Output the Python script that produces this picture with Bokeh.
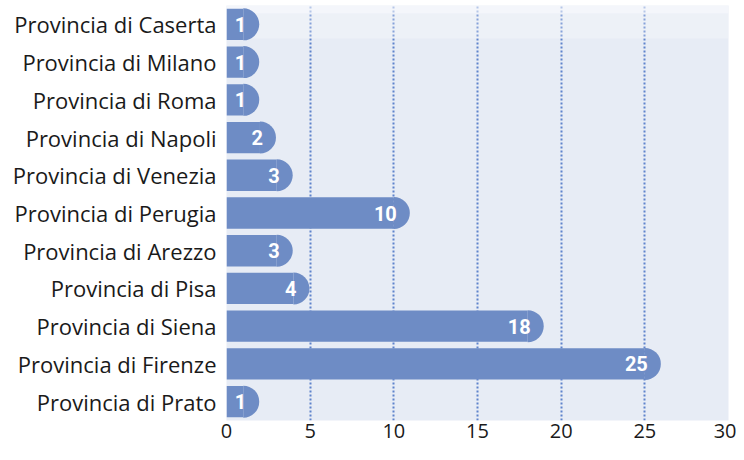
import math
from bokeh.plotting import figure
from bokeh.models import ColumnDataSource, FactorRange, Range1d, SingleIntervalTicker, BoxAnnotation
from bokeh.core.properties import value
from bokeh.embed import file_html
from bokeh.resources import INLINE

# Data (top to bottom as shown)
provinces = [
    "Provincia di Caserta", "Provincia di Milano", "Provincia di Roma",
    "Provincia di Napoli", "Provincia di Venezia", "Provincia di Perugia",
    "Provincia di Arezzo", "Provincia di Pisa", "Provincia di Siena",
    "Provincia di Firenze", "Provincia di Prato",
]
counts = [1, 1, 1, 2, 3, 10, 3, 4, 18, 25, 1]
x_ticks = [0, 5, 10, 15, 20, 25, 30]

src = ColumnDataSource(dict(
    cat=provinces,
    val=counts,
    lbl=[str(c) for c in counts],
))

factors = list(reversed(provinces))

W, H = 736, 452
p = figure(
    width=W, height=H,
    y_range=FactorRange(factors=factors, range_padding=0),
    x_range=Range1d(0, 30),
    output_backend="svg", toolbar_location=None,
    min_border_left=226, min_border_right=8, min_border_top=5, min_border_bottom=32,
)
p.outline_line_color = None
p.background_fill_color = "#e7ecf5"
p.border_fill_color = "white"

# lighter (snowy) band at the top of the background (screen units measured from bottom)
p.add_layout(BoxAnnotation(top=H, bottom=H - 45, top_units="screen", bottom_units="screen",
                           fill_color="white", fill_alpha=0.55, line_color=None, level="underlay"))
p.add_layout(BoxAnnotation(top=H - 45, bottom=H - 70, top_units="screen", bottom_units="screen",
                           fill_color="white", fill_alpha=0.25, line_color=None, level="underlay"))

bar_color = "#6e8cc5"
p.hbar(y="cat", left=0, right="val", height=0.83, source=src,
       fill_color=bar_color, line_color=None)
p.wedge(x="val", y="cat", radius=16, radius_units="screen",
        start_angle=-math.pi / 2, end_angle=math.pi / 2, source=src,
        fill_color=bar_color, line_color=None)
p.text(x="val", y="cat", text="lbl", source=src, x_offset=3,
       text_align="right", text_baseline="middle",
       text_color="white", text_font=value("Roboto"), text_font_style="bold",
       text_font_size="20px")

# grid
p.ygrid.grid_line_color = None
p.xgrid.ticker = SingleIntervalTicker(interval=5)
p.xgrid.grid_line_color = "#4f78c8"
p.xgrid.grid_line_width = 2
p.xgrid.grid_line_dash = "2 2"
p.xgrid.grid_line_alpha = 0.9

# axes
p.xaxis.ticker = x_ticks
p.xaxis.axis_line_color = None
p.xaxis.major_tick_line_color = None
p.xaxis.minor_tick_line_color = None
p.xaxis.major_tick_out = 0
p.xaxis.major_label_standoff = 3
p.xaxis.major_label_text_font = "Open Sans"
p.xaxis.major_label_text_font_size = "20px"
p.xaxis.major_label_text_color = "#1a1a1a"

p.yaxis.axis_line_color = None
p.yaxis.major_tick_line_color = None
p.yaxis.major_tick_out = 0
p.yaxis.major_label_standoff = 10
p.yaxis.major_label_text_font = "Open Sans"
p.yaxis.major_label_text_font_size = "22px"
p.yaxis.major_label_text_color = "#1a1a1a"

open("out.html", "w").write(file_html(p, INLINE))
